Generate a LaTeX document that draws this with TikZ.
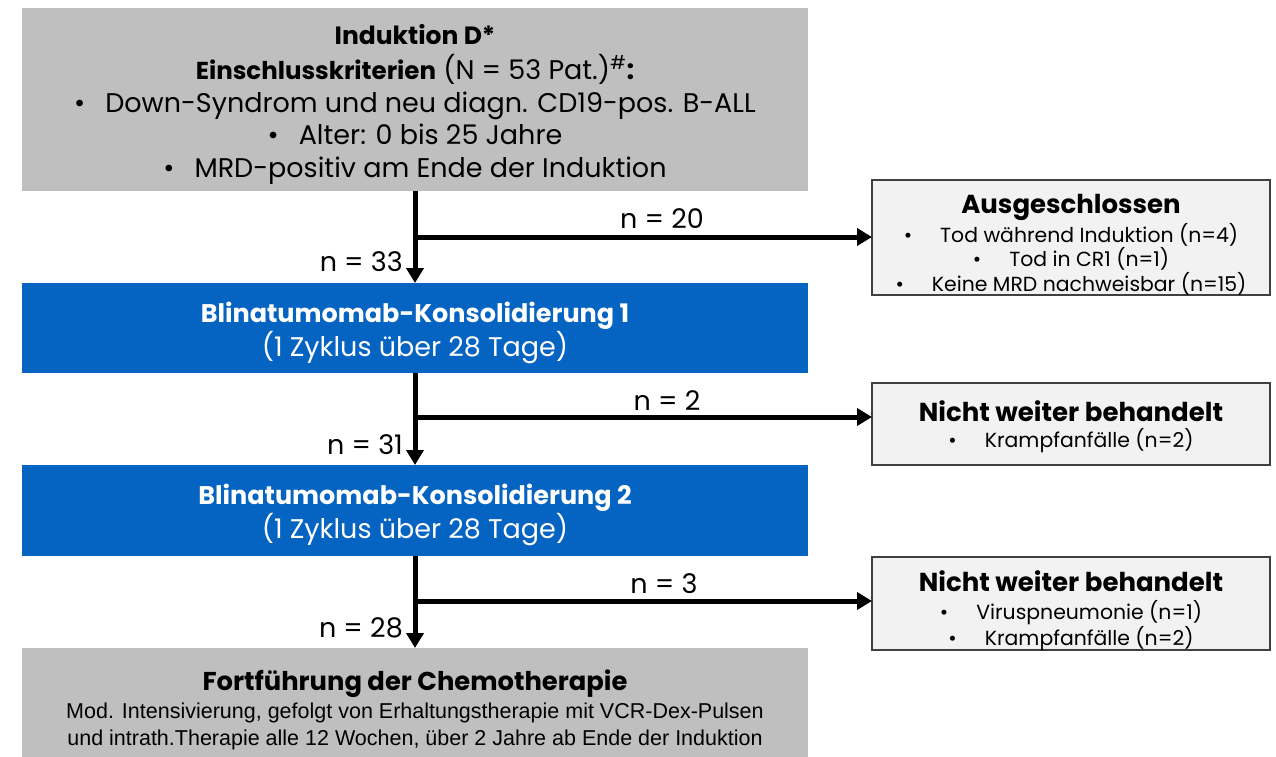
\documentclass[tikz,border=0pt]{standalone}
\usepackage{fontspec}
\setmainfont{Poppins}
\newfontfamily\arialfont{Liberation Sans}
\usetikzlibrary{arrows.meta}
\definecolor{boxgray}{HTML}{BFBFBF}
\definecolor{boxblue}{HTML}{0563C1}
\definecolor{sidefill}{HTML}{F2F2F2}
\definecolor{sideline}{HTML}{404040}
\tikzset{
  mainbox/.style={draw=none, minimum width=786pt, minimum height=#1, inner sep=0pt, outer sep=0pt},
  sidebox/.style={draw=sideline, line width=1.5pt, fill=sidefill, minimum width=398pt, minimum height=#1, inner sep=0pt, outer sep=0pt},
  txt/.style={anchor=base, inner sep=0pt, font=\fontsize{27}{30}\selectfont},
  sidetitle/.style={anchor=base, inner sep=0pt, font=\fontsize{26}{28}\selectfont\bfseries},
  sideitem/.style={anchor=base, inner sep=0pt, font=\fontsize{20.4}{22}\selectfont},
  blue/.style={anchor=base, inner sep=0pt, text=white},
  nlab/.style={anchor=base, inner sep=0pt, font=\fontsize{27}{30}\selectfont},
  arr/.style={line width=5pt, -{Triangle[length=15pt,width=17pt]}},
}
\newcommand{\bul}{•\hspace{20pt}}
\newcommand{\sbul}{•\hspace{28pt}}
\begin{document}
\begin{tikzpicture}[x=1pt,y=-1pt]
\useasboundingbox (0,0) rectangle (1276,756);
% main boxes
\node[mainbox=183pt, fill=boxgray] (top) at (415,99.5) {};
\node[mainbox=90pt, fill=boxblue] (bl1) at (415,328) {};
\node[mainbox=91pt, fill=boxblue] (bl2) at (415,510.5) {};
\node[mainbox=112pt, fill=boxgray] (bot) at (415,704) {};
% side boxes
\node[sidebox=115pt] (ex1) at (1071,237.5) {};
\node[sidebox=82pt] (ex2) at (1071,424) {};
\node[sidebox=93pt] (ex3) at (1071,603.5) {};
% top texts
\node[txt, font=\fontsize{25}{28}\selectfont\bfseries] (t1) at (415,44) {Induktion D*};
\node[txt] (t2) at (415,79) {{\fontsize{24.5}{28}\selectfont\bfseries Einschlusskriterien} (N = 53 Pat.)\textsuperscript{\#}\textbf{:}};
\node[txt] (t3) at (415,112) {\bul Down-Syndrom und neu diagn. CD19-pos. B-ALL};
\node[txt] (t4) at (415,144) {\bul Alter: 0 bis 25 Jahre};
\node[txt] (t5) at (415,177) {\bul MRD-positiv am Ende der Induktion};
% blue texts
\node[blue, font=\fontsize{25.5}{28}\selectfont\bfseries] (b1a) at (415,322) {Blinatumomab-Konsolidierung 1};
\node[blue, font=\fontsize{27}{30}\selectfont] (b1b) at (415,356) {(1 Zyklus über 28 Tage)};
\node[blue, font=\fontsize{25.5}{28}\selectfont\bfseries] (b2a) at (415,504) {Blinatumomab-Konsolidierung 2};
\node[blue, font=\fontsize{27}{30}\selectfont] (b2b) at (415,538) {(1 Zyklus über 28 Tage)};
% bottom texts
\node[anchor=base, inner sep=0pt, font=\fontsize{25.8}{28}\selectfont\bfseries] (c1) at (415,690) {Fortführung der Chemotherapie};
\node[anchor=base, inner sep=0pt, font=\arialfont\fontsize{21.5}{24}\selectfont] (c2) at (415,718) {Mod. Intensivierung, gefolgt von Erhaltungstherapie mit VCR-Dex-Pulsen};
\node[anchor=base, inner sep=0pt, font=\arialfont\fontsize{21.5}{24}\selectfont] (c3) at (415,745) {und intrath.Therapie alle 12 Wochen, über 2 Jahre ab Ende der Induktion};
% side texts
\node[sidetitle] (e1t) at (1071,213) {Ausgeschlossen};
\node[sideitem] (e1a) at (1071,242) {\sbul Tod während Induktion (n=4)};
\node[sideitem] (e1b) at (1071,266) {\sbul Tod in CR1 (n=1)};
\node[sideitem] (e1c) at (1071,291) {\sbul Keine MRD nachweisbar (n=15)};
\node[sidetitle] (e2t) at (1071,421) {Nicht weiter behandelt};
\node[sideitem] (e2a) at (1071,447) {\sbul Krampfanfälle (n=2)};
\node[sidetitle] (e3t) at (1071,591) {Nicht weiter behandelt};
\node[sideitem] (e3a) at (1071,619) {\sbul Viruspneumonie (n=1)};
\node[sideitem] (e3b) at (1071,645) {\sbul Krampfanfälle (n=2)};
% connectors
\coordinate (k1) at (415,237);
\coordinate (k2) at (415,417);
\coordinate (k3) at (415,601);
\draw[arr] (top.south) -- (bl1.north);
\draw[arr] (bl1.south) -- (bl2.north);
\draw[arr] (bl2.south) -- (bot.north);
\draw[arr] (k1) -- (k1 -| ex1.west);
\draw[arr] (k2) -- (k2 -| ex2.west);
\draw[arr] (k3) -- (k3 -| ex3.west);
% labels
\node[nlab] (n20) at (662,228) {n = 20};
\node[nlab, anchor=base east] (n33) at (403,271) {n = 33};
\node[nlab] (n2) at (667,410) {n = 2};
\node[nlab, anchor=base east] (n31) at (403,454) {n = 31};
\node[nlab] (n3) at (664,593) {n = 3};
\node[nlab, anchor=base east] (n28) at (403,637) {n = 28};
\end{tikzpicture}
\end{document}
